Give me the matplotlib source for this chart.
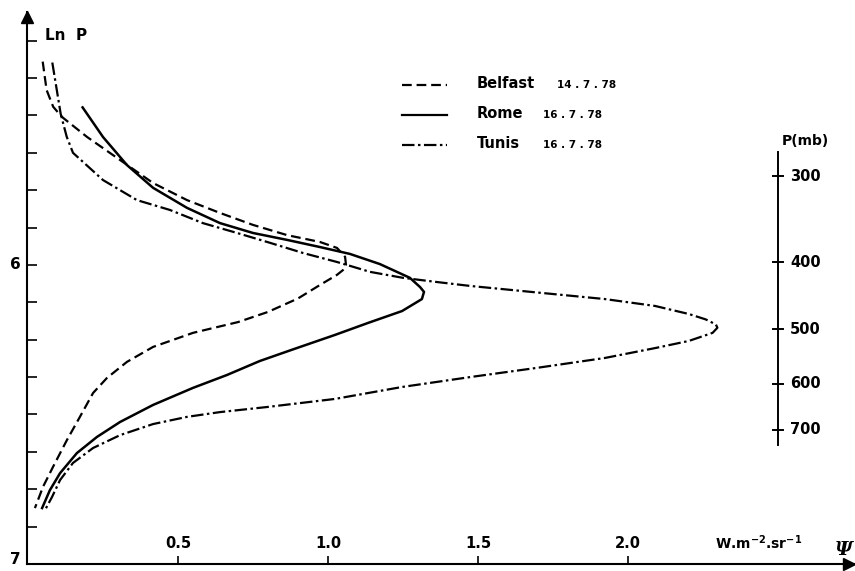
import numpy as np
import matplotlib
matplotlib.use("Agg")
import matplotlib.pyplot as plt

plt.rcParams['font.family'] = ['DejaVu Sans']
plt.rcParams['font.weight'] = 'bold'
plt.rcParams['lines.scale_dashes'] = False
plt.rcParams['mathtext.default'] = 'bf'

# ---------------- data (psi in W m-2 sr-1, ln P) ----------------
belfast_psi = [0.049, 0.062, 0.084, 0.107, 0.117, 0.197, 0.307, 0.417, 0.530, 0.640,
               0.750, 0.863, 0.973, 1.030, 1.057, 1.060, 1.050, 1.030, 0.973, 0.900,
               0.800, 0.700, 0.550, 0.417, 0.330, 0.263, 0.217, 0.173, 0.130, 0.083,
               0.050, 0.023]
belfast_lnp = [5.320, 5.415, 5.471, 5.498, 5.508, 5.572, 5.649, 5.726, 5.783, 5.826,
               5.866, 5.900, 5.923, 5.943, 5.973, 6.000, 6.017, 6.033, 6.067, 6.112,
               6.157, 6.191, 6.227, 6.274, 6.324, 6.378, 6.428, 6.508, 6.585, 6.676,
               6.742, 6.813]

rome_psi = [0.182, 0.250, 0.330, 0.417, 0.530, 0.640, 0.750, 0.863, 0.973, 1.073,
            1.173, 1.273, 1.307, 1.320, 1.313, 1.247, 1.133, 1.023, 0.887, 0.773,
            0.663, 0.550, 0.417, 0.307, 0.230, 0.163, 0.107, 0.073, 0.047]
rome_lnp = [5.473, 5.572, 5.666, 5.742, 5.809, 5.860, 5.893, 5.916, 5.940, 5.963,
            5.997, 6.043, 6.074, 6.090, 6.114, 6.154, 6.194, 6.234, 6.281, 6.321,
            6.368, 6.411, 6.468, 6.525, 6.575, 6.629, 6.696, 6.753, 6.813]

tunis_psi = [0.081, 0.096, 0.109, 0.129, 0.150, 0.250, 0.363, 0.473, 0.583, 0.697,
             0.807, 0.917, 1.030, 1.140, 1.250, 1.363, 1.473, 1.697, 1.923, 2.090,
             2.203, 2.259, 2.293, 2.298, 2.282, 2.203, 2.090, 1.923, 1.697, 1.473,
             1.247, 1.023, 0.797, 0.640, 0.530, 0.417, 0.307, 0.217, 0.150, 0.107,
             0.080, 0.057]
tunis_lnp = [5.323, 5.415, 5.495, 5.571, 5.625, 5.716, 5.783, 5.816, 5.860, 5.893,
             5.926, 5.960, 5.990, 6.023, 6.043, 6.057, 6.070, 6.092, 6.114, 6.137,
             6.164, 6.182, 6.199, 6.210, 6.227, 6.254, 6.278, 6.311, 6.344, 6.375,
             6.408, 6.448, 6.475, 6.492, 6.508, 6.532, 6.569, 6.612, 6.662, 6.719,
             6.776, 6.819]

series_names = ["Belfast", "Rome", "Tunis"]
series_dates = ["14 . 7 . 78", "16 . 7 . 78", "16 . 7 . 78"]

x_ticks = [0.5, 1.0, 1.5, 2.0]
x_tick_labels = ["0.5", "1.0", "1.5", "2.0"]
y_major = [6, 7]
y_minor = [5.25, 5.375, 5.5, 5.625, 5.75, 5.875, 6.125, 6.25, 6.375, 6.5, 6.625, 6.75, 6.875]
p_ticks = [300, 400, 500, 600, 700]

# ---------------- figure ----------------
W, H = 855, 571
fig = plt.figure(figsize=(W / 100, H / 100), dpi=100)
ax = fig.add_axes([27 / W, 7 / H, 828 / W, 552 / H])
ax.set_xlim(-0.00333, 2.7567)
ax.set_ylim(7.0, 5.154)

for s in ['top', 'right']:
    ax.spines[s].set_visible(False)
for s in ['left', 'bottom']:
    ax.spines[s].set_linewidth(1.5)

# arrows
ax.plot(0.9928, 0, marker='>', color='k', ms=8, transform=ax.transAxes, clip_on=False)
ax.plot(0, 0.991, marker='^', color='k', ms=8, transform=ax.transAxes, clip_on=False)

# y ticks (labels drawn as texts so the bottom one stays inside the picture)
ax.set_yticks(y_major)
ax.set_yticklabels([])
ax.set_yticks(y_minor, minor=True)
ax.tick_params(axis='y', which='both', direction='in', length=7, width=1.2)
yt = ax.get_yaxis_transform()
for v in y_major:
    ax.text(-0.0075, min(v, 6.985), str(v), transform=yt, ha='right', va='center',
            fontsize=11, fontweight='bold')

# x ticks
ax.set_xticks(x_ticks)
ax.set_xticklabels([])
ax.tick_params(axis='x', direction='in', length=6, width=1.2)
xt = ax.get_xaxis_transform()
for v, lab in zip(x_ticks, x_tick_labels):
    ax.text(v, 0.038, lab, transform=xt, ha='center', va='center', fontsize=10.5,
            fontweight='bold')
ax.text(2.29, 0.038, r'W.m$^{-2}$.sr$^{-1}$', transform=xt, ha='left', va='center',
        fontsize=10, fontweight='bold')
ax.text(2.69, 0.025, 'Ψ', transform=xt, ha='left', va='center', fontsize=14,
        family='DejaVu Serif', style='italic')
ax.text(0.057, 5.234, 'Ln  P', ha='left', va='center', fontsize=11, fontweight='bold')

# curves
lw = 1.6
ax.plot(belfast_psi, belfast_lnp, color='k', lw=lw, dashes=(7, 3.5))
ax.plot(rome_psi, rome_lnp, color='k', lw=lw + 0.2, solid_joinstyle='round')
ax.plot(tunis_psi, tunis_lnp, color='k', lw=lw, dashes=(9, 2.5, 1.8, 2.5))

# legend (manual)
styles = [dict(dashes=(7, 3.5)), dict(), dict(dashes=(9, 2.5, 1.8, 2.5))]
rows = [5.398, 5.498, 5.599]
date_x = [1.763, 1.717, 1.717]
for name, date, st, yr, dx in zip(series_names, series_dates, styles, rows, date_x):
    ax.plot([1.247, 1.397], [yr, yr], color='k', lw=lw, **st)
    ax.text(1.497, yr - 0.005, name, ha='left', va='center', fontsize=10.5,
            fontweight='bold')
    ax.text(dx, yr, date, ha='left', va='center', fontsize=7.5, fontweight='bold')

# right pressure axis
xr = 2.5
ax.plot([xr, xr], [5.622, 6.602], color='k', lw=1.4)
for p in p_ticks:
    lp = np.log(p)
    ax.plot([xr - 0.017, xr + 0.017], [lp, lp], color='k', lw=1.4)
    ax.text(xr + 0.04, lp, str(p), ha='left', va='center', fontsize=10.5,
            fontweight='bold')
ax.text(xr + 0.013, 5.585, 'P(mb)', ha='left', va='center', fontsize=10,
        fontweight='bold')

fig.savefig('out.png', dpi=100)
